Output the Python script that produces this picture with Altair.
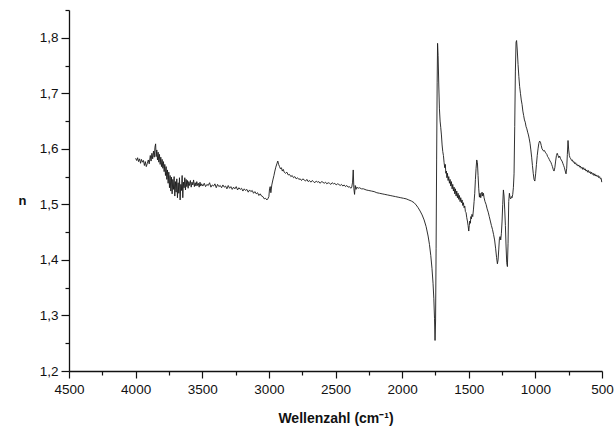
import altair as alt
import pandas as pd

wavenumber = [
    4000, 3992, 3985, 3978, 3970, 3963, 3956, 3948, 3941, 3934, 3927, 3920, 3912, 3905, 3898, 3890,
    3884, 3878, 3872, 3866, 3860, 3855, 3850, 3846, 3841, 3836, 3831, 3826, 3821, 3816, 3811, 3806,
    3801, 3796, 3791, 3786, 3781, 3776, 3771, 3766, 3761, 3756, 3751, 3746, 3741, 3736, 3731, 3726,
    3721, 3716, 3711, 3706, 3701, 3696, 3691, 3686, 3681, 3676, 3671, 3666, 3661, 3656, 3651, 3646,
    3641, 3636, 3631, 3626, 3621, 3616, 3611, 3606, 3601, 3595, 3589, 3583, 3577, 3571, 3565, 3559,
    3553, 3547, 3541, 3535, 3529, 3523, 3517, 3511, 3505,
    3495, 3485, 3475, 3465, 3455, 3445, 3435, 3425, 3415, 3405, 3395, 3385, 3375, 3365, 3355, 3345,
    3335, 3325, 3315, 3305, 3295, 3285, 3275, 3265, 3255, 3245, 3235, 3225, 3215, 3205, 3195, 3185,
    3175, 3165, 3155, 3145, 3135, 3125, 3115, 3105, 3095, 3085, 3075, 3065, 3055, 3045, 3035, 3025,
    3015, 3008, 3000, 2995, 2990, 2985, 2978, 2970, 2962, 2955, 2948, 2940, 2933, 2927, 2920, 2913,
    2906, 2899, 2892, 2885, 2875, 2865, 2855, 2845, 2835, 2825, 2815, 2805, 2795, 2785, 2775, 2765,
    2755, 2745, 2735, 2725, 2715, 2705, 2695, 2685, 2675, 2665, 2655, 2645, 2635, 2625, 2615, 2605,
    2595, 2585, 2575, 2565, 2555, 2545, 2535, 2525, 2515, 2505, 2495, 2485, 2475, 2465, 2455, 2445,
    2435, 2425, 2415, 2405, 2395, 2385, 2378, 2372, 2367, 2362, 2357, 2352, 2346, 2340, 2330, 2320,
    2305, 2290, 2270, 2250, 2230, 2210, 2190, 2170, 2150, 2130, 2110, 2090, 2070, 2050, 2030, 2010,
    1990, 1970, 1950, 1930, 1910, 1895, 1880, 1865, 1850, 1835, 1820, 1805, 1795, 1785, 1776, 1768,
    1762, 1757, 1753, 1749, 1745, 1741, 1737, 1734, 1730, 1725, 1720, 1715, 1710, 1705, 1700, 1695,
    1690, 1685, 1680, 1676, 1672, 1668, 1664, 1660, 1655, 1650, 1645, 1640, 1635, 1630, 1625, 1620,
    1615, 1610, 1605, 1600, 1595, 1590, 1585, 1580, 1575, 1570, 1565, 1560, 1555, 1550, 1545, 1540,
    1535, 1530, 1525, 1520, 1515, 1510, 1505, 1500, 1496, 1492, 1488, 1484, 1480, 1476, 1470, 1465,
    1460, 1455, 1450, 1445, 1440, 1435, 1430, 1425, 1420, 1415, 1410, 1405, 1400, 1395, 1390, 1385,
    1378, 1370, 1362, 1354, 1346, 1338, 1330, 1322, 1314, 1306, 1298, 1291, 1285, 1280, 1275, 1270,
    1265, 1260, 1255, 1250, 1245, 1240, 1235, 1230, 1225, 1220, 1215, 1210, 1205, 1200, 1195, 1190,
    1185, 1180, 1175, 1170, 1165, 1160, 1155, 1150, 1145, 1141, 1136, 1130, 1124, 1118, 1112, 1106,
    1100, 1094, 1088, 1082, 1076, 1070, 1064, 1058, 1052, 1046, 1040, 1034, 1028, 1022, 1016, 1010,
    1004, 998, 992, 986, 980, 974, 968, 962, 956, 950, 944, 938, 932, 926, 920, 914,
    908, 902, 896, 890, 884, 878, 872, 866, 860, 854, 848, 842, 836, 830, 824, 818,
    812, 806, 800, 794, 788, 782, 776, 770, 765, 760, 755, 750, 745, 740, 734, 728,
    722, 716, 710, 704, 698, 692, 686, 680, 674, 668, 662, 656, 650, 644, 638, 632,
    626, 620, 614, 608, 602, 596, 590, 584, 578, 572, 566, 560, 554, 548, 542, 536,
    530, 524, 518, 512, 506, 502,
]
n_values = [
    1.583, 1.579, 1.584, 1.577, 1.582, 1.574, 1.581, 1.576, 1.579, 1.570, 1.577, 1.568, 1.574, 1.580, 1.573, 1.588,
    1.578, 1.592, 1.582, 1.596, 1.585, 1.603, 1.609, 1.586, 1.598, 1.580, 1.594, 1.576, 1.590, 1.572, 1.585, 1.568,
    1.581, 1.565, 1.577, 1.559, 1.572, 1.552, 1.568, 1.545, 1.562, 1.538, 1.558, 1.530, 1.552, 1.524, 1.549, 1.519,
    1.545, 1.527, 1.550, 1.515, 1.541, 1.522, 1.546, 1.512, 1.539, 1.520, 1.548, 1.508, 1.536, 1.525, 1.552, 1.512,
    1.540, 1.530, 1.548, 1.526, 1.545, 1.532, 1.543, 1.529, 1.541, 1.534, 1.543, 1.531, 1.540, 1.535, 1.544, 1.532,
    1.539, 1.533, 1.541, 1.534, 1.538, 1.531, 1.540, 1.533, 1.537,
    1.533, 1.538, 1.532, 1.536, 1.534, 1.539, 1.531, 1.535, 1.533, 1.537, 1.530, 1.536, 1.532, 1.534, 1.530, 1.535,
    1.531, 1.533, 1.528, 1.534, 1.529, 1.532, 1.527, 1.531, 1.528, 1.532, 1.526, 1.530, 1.527, 1.529, 1.524, 1.528,
    1.525, 1.527, 1.522, 1.526, 1.523, 1.525, 1.520, 1.523, 1.519, 1.521, 1.516, 1.519, 1.515, 1.514, 1.510, 1.511,
    1.508, 1.510, 1.514, 1.528, 1.532, 1.521, 1.535, 1.544, 1.552, 1.560, 1.567, 1.573, 1.578, 1.572, 1.568, 1.564,
    1.566, 1.560, 1.563, 1.558, 1.556, 1.558, 1.553, 1.554, 1.550, 1.552, 1.548, 1.550, 1.546, 1.548, 1.545, 1.546,
    1.543, 1.546, 1.544, 1.542, 1.545, 1.541, 1.543, 1.540, 1.543, 1.541, 1.539, 1.542, 1.540, 1.541, 1.538, 1.541,
    1.540, 1.538, 1.540, 1.537, 1.539, 1.538, 1.536, 1.539, 1.537, 1.538, 1.535, 1.537, 1.536, 1.534, 1.536, 1.533,
    1.535, 1.532, 1.534, 1.531, 1.532, 1.529, 1.531, 1.540, 1.562, 1.528, 1.518, 1.534, 1.527, 1.531, 1.529, 1.530,
    1.528, 1.528, 1.526, 1.525, 1.524, 1.523, 1.521, 1.520, 1.519, 1.518, 1.517, 1.516, 1.515, 1.514, 1.513, 1.512,
    1.511, 1.510, 1.508, 1.506, 1.503, 1.499, 1.494, 1.488, 1.481, 1.472, 1.460, 1.443, 1.428, 1.408, 1.385, 1.358,
    1.330, 1.295, 1.255, 1.290, 1.420, 1.580, 1.720, 1.790, 1.768, 1.715, 1.672, 1.650, 1.638, 1.625, 1.607, 1.595,
    1.588, 1.575, 1.566, 1.572, 1.556, 1.560, 1.548, 1.556, 1.543, 1.550, 1.538, 1.545, 1.533, 1.541, 1.528, 1.536,
    1.524, 1.531, 1.519, 1.528, 1.515, 1.524, 1.512, 1.520, 1.509, 1.516, 1.505, 1.512, 1.503, 1.508, 1.498, 1.503,
    1.494, 1.497, 1.487, 1.485, 1.476, 1.470, 1.462, 1.452, 1.462, 1.470, 1.466, 1.478, 1.474, 1.482, 1.478, 1.490,
    1.505, 1.520, 1.545, 1.565, 1.580, 1.575, 1.552, 1.528, 1.513, 1.520, 1.512, 1.518, 1.522, 1.515, 1.520, 1.512,
    1.505, 1.500, 1.492, 1.486, 1.478, 1.470, 1.462, 1.455, 1.446, 1.436, 1.420, 1.404, 1.393, 1.400, 1.418, 1.438,
    1.442, 1.436, 1.448, 1.470, 1.500, 1.526, 1.515, 1.490, 1.462, 1.425, 1.395, 1.388, 1.430, 1.505, 1.520, 1.512,
    1.510, 1.514, 1.512, 1.518, 1.530, 1.555, 1.640, 1.740, 1.792, 1.795, 1.778, 1.752, 1.730, 1.712, 1.700, 1.688,
    1.680, 1.668, 1.660, 1.652, 1.648, 1.640, 1.636, 1.630, 1.625, 1.618, 1.610, 1.598, 1.585, 1.570, 1.556, 1.545,
    1.542, 1.555, 1.572, 1.588, 1.600, 1.610, 1.614, 1.612, 1.606, 1.600, 1.598, 1.596, 1.597, 1.594, 1.592, 1.590,
    1.586, 1.584, 1.581, 1.578, 1.576, 1.572, 1.568, 1.563, 1.560, 1.566, 1.578, 1.588, 1.592, 1.588, 1.584, 1.587,
    1.583, 1.580, 1.578, 1.574, 1.570, 1.566, 1.560, 1.555, 1.565, 1.590, 1.615, 1.598, 1.588, 1.584, 1.582, 1.579,
    1.580, 1.576, 1.577, 1.573, 1.575, 1.571, 1.572, 1.569, 1.571, 1.567, 1.569, 1.565, 1.567, 1.563, 1.566, 1.562,
    1.564, 1.560, 1.562, 1.558, 1.561, 1.557, 1.559, 1.555, 1.558, 1.554, 1.556, 1.552, 1.555, 1.551, 1.553, 1.550,
    1.552, 1.548, 1.550, 1.546, 1.547, 1.540,
]

x_major = [4500, 4000, 3500, 3000, 2500, 2000, 1500, 1000, 500]
x_minor = [4250, 3750, 3250, 2750, 2250, 1750, 1250, 750]
y_major = [1.2, 1.3, 1.4, 1.5, 1.6, 1.7, 1.8]
y_minor = [1.25, 1.35, 1.45, 1.55, 1.65, 1.75, 1.85]

df = pd.DataFrame({"w": wavenumber, "n": n_values})

FONT = "Liberation Sans"
INK = "#111111"
x_scale = alt.Scale(domain=[500, 4500], reverse=True, nice=False, zero=False)
y_scale = alt.Scale(domain=[1.2, 1.85], nice=False, zero=False)

base = alt.Chart(df)

main = base.mark_line(color="#1a1a1a", strokeWidth=0.9).encode(
    x=alt.X(
        "w:Q", scale=x_scale,
        axis=alt.Axis(
            values=x_major, format="d", orient="bottom", grid=False,
            title="Wellenzahl (cm⁻¹)", titleFont=FONT, titleFontSize=14, titleFontWeight="bold",
            titleColor=INK, titleY=47, titleBaseline="middle",
            labelFont=FONT, labelFontSize=13.5, labelColor=INK, labelPadding=4,
            tickSize=7, tickColor=INK, domainColor=INK, domainWidth=1.3, tickWidth=1.2,
            labelFlush=False, labelOverlap=False,
        ),
    ),
    y=alt.Y(
        "n:Q", scale=y_scale,
        axis=alt.Axis(
            values=y_major, orient="left", grid=False,
            labelExpr="replace(format(datum.value, '.1f'), '.', ',')",
            title="n", titleFont=FONT, titleFontSize=13, titleFontWeight="bold", titleColor=INK,
            titleAngle=0, titleX=-47, titleY=190, titleAlign="center", titleBaseline="middle",
            labelFont=FONT, labelFontSize=13.5, labelColor=INK, labelPadding=3,
            tickSize=8, tickColor=INK, domainColor=INK, domainWidth=1.3, tickWidth=1.2,
            labelFlush=False, labelOverlap=False,
        ),
    ),
)

minor = base.mark_line(strokeOpacity=0).encode(
    x=alt.X(
        "w:Q", scale=x_scale,
        axis=alt.Axis(values=x_minor, orient="bottom", labels=False, title=None, grid=False,
                      domain=False, tickSize=4, tickWidth=1.2, tickColor=INK),
    ),
    y=alt.Y(
        "n:Q", scale=y_scale,
        axis=alt.Axis(values=y_minor, orient="left", labels=False, title=None, grid=False,
                      domain=False, tickSize=4, tickWidth=1.2, tickColor=INK),
    ),
)

chart = (
    alt.layer(main, minor)
    .resolve_axis(x="independent", y="independent")
    .properties(
        width=533, height=361,
        autosize=alt.AutoSizeParams(type="none"),
        padding={"left": 69, "top": 10, "right": 13, "bottom": 64},
        background="white",
    )
    .configure_view(stroke=None)
)

chart.save("out.html", embed_options={"renderer": "svg", "actions": False})
